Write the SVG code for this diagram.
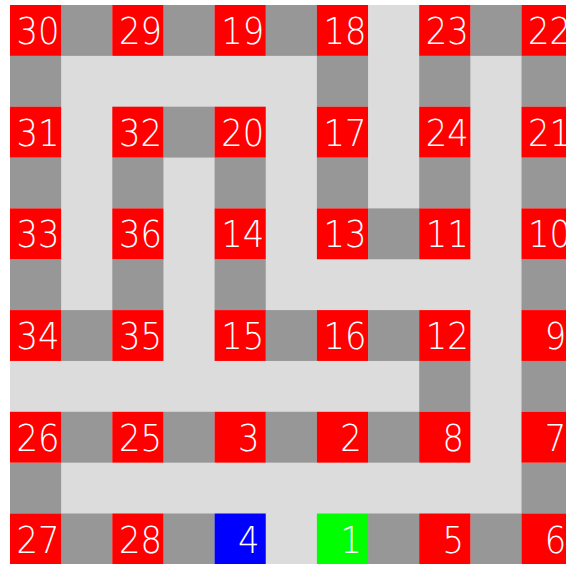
<svg xmlns="http://www.w3.org/2000/svg" xmlns:xlink="http://www.w3.org/1999/xlink" width="566" height="564" viewBox="0 0 566 564">
<style>
.bg{fill:#dcdcdc}
.w{fill:#979797}
.n{fill:#ff0000}
.s{fill:#00ff00}
.e{fill:#0000ff}
.t{fill:#ffffff;font-family:"DejaVu Sans","Liberation Sans",sans-serif;font-weight:200;font-size:37px;text-anchor:middle}
</style>
<defs>
<rect id="c" width="51.15" height="50.85"/>
</defs>
<rect x="0" y="0" width="566" height="564" fill="#ffffff"/>
<rect class="bg" x="10" y="5" width="556" height="559"/>
<g id="connectors">
<use href="#c" class="w" x="61.15" y="5"/>
<use href="#c" class="w" x="163.45" y="5"/>
<use href="#c" class="w" x="265.75" y="5"/>
<use href="#c" class="w" x="470.35" y="5"/>
<use href="#c" class="w" x="10" y="55.85"/>
<use href="#c" class="w" x="316.9" y="55.85"/>
<use href="#c" class="w" x="419.2" y="55.85"/>
<use href="#c" class="w" x="521.5" y="55.85"/>
<use href="#c" class="w" x="163.45" y="106.7"/>
<use href="#c" class="w" x="10" y="157.55"/>
<use href="#c" class="w" x="112.3" y="157.55"/>
<use href="#c" class="w" x="214.6" y="157.55"/>
<use href="#c" class="w" x="316.9" y="157.55"/>
<use href="#c" class="w" x="419.2" y="157.55"/>
<use href="#c" class="w" x="521.5" y="157.55"/>
<use href="#c" class="w" x="368.05" y="208.4"/>
<use href="#c" class="w" x="10" y="259.25"/>
<use href="#c" class="w" x="112.3" y="259.25"/>
<use href="#c" class="w" x="214.6" y="259.25"/>
<use href="#c" class="w" x="521.5" y="259.25"/>
<use href="#c" class="w" x="61.15" y="310.1"/>
<use href="#c" class="w" x="265.75" y="310.1"/>
<use href="#c" class="w" x="368.05" y="310.1"/>
<use href="#c" class="w" x="419.2" y="360.95"/>
<use href="#c" class="w" x="521.5" y="360.95"/>
<use href="#c" class="w" x="61.15" y="411.8"/>
<use href="#c" class="w" x="163.45" y="411.8"/>
<use href="#c" class="w" x="265.75" y="411.8"/>
<use href="#c" class="w" x="368.05" y="411.8"/>
<use href="#c" class="w" x="10" y="462.65"/>
<use href="#c" class="w" x="521.5" y="462.65"/>
<use href="#c" class="w" x="61.15" y="513.5"/>
<use href="#c" class="w" x="163.45" y="513.5"/>
<use href="#c" class="w" x="368.05" y="513.5"/>
<use href="#c" class="w" x="470.35" y="513.5"/>
</g>
<g id="n30"><use href="#c" class="n" x="10" y="5"/><text class="t" x="38.1" y="44" textLength="43" lengthAdjust="spacingAndGlyphs">30</text></g>
<g id="n29"><use href="#c" class="n" x="112.3" y="5"/><text class="t" x="140.4" y="44" textLength="43" lengthAdjust="spacingAndGlyphs">29</text></g>
<g id="n19"><use href="#c" class="n" x="214.6" y="5"/><text class="t" x="242.7" y="44" textLength="43" lengthAdjust="spacingAndGlyphs">19</text></g>
<g id="n18"><use href="#c" class="n" x="316.9" y="5"/><text class="t" x="345" y="44" textLength="43" lengthAdjust="spacingAndGlyphs">18</text></g>
<g id="n23"><use href="#c" class="n" x="419.2" y="5"/><text class="t" x="447.3" y="44" textLength="43" lengthAdjust="spacingAndGlyphs">23</text></g>
<g id="n22"><use href="#c" class="n" x="521.5" y="5"/><text class="t" x="549.6" y="44" textLength="43" lengthAdjust="spacingAndGlyphs">22</text></g>
<g id="n31"><use href="#c" class="n" x="10" y="106.7"/><text class="t" x="38.1" y="145.7" textLength="43" lengthAdjust="spacingAndGlyphs">31</text></g>
<g id="n32"><use href="#c" class="n" x="112.3" y="106.7"/><text class="t" x="140.4" y="145.7" textLength="43" lengthAdjust="spacingAndGlyphs">32</text></g>
<g id="n20"><use href="#c" class="n" x="214.6" y="106.7"/><text class="t" x="242.7" y="145.7" textLength="43" lengthAdjust="spacingAndGlyphs">20</text></g>
<g id="n17"><use href="#c" class="n" x="316.9" y="106.7"/><text class="t" x="345" y="145.7" textLength="43" lengthAdjust="spacingAndGlyphs">17</text></g>
<g id="n24"><use href="#c" class="n" x="419.2" y="106.7"/><text class="t" x="447.3" y="145.7" textLength="43" lengthAdjust="spacingAndGlyphs">24</text></g>
<g id="n21"><use href="#c" class="n" x="521.5" y="106.7"/><text class="t" x="549.6" y="145.7" textLength="43" lengthAdjust="spacingAndGlyphs">21</text></g>
<g id="n33"><use href="#c" class="n" x="10" y="208.4"/><text class="t" x="38.1" y="247.4" textLength="43" lengthAdjust="spacingAndGlyphs">33</text></g>
<g id="n36"><use href="#c" class="n" x="112.3" y="208.4"/><text class="t" x="140.4" y="247.4" textLength="43" lengthAdjust="spacingAndGlyphs">36</text></g>
<g id="n14"><use href="#c" class="n" x="214.6" y="208.4"/><text class="t" x="242.7" y="247.4" textLength="43" lengthAdjust="spacingAndGlyphs">14</text></g>
<g id="n13"><use href="#c" class="n" x="316.9" y="208.4"/><text class="t" x="345" y="247.4" textLength="43" lengthAdjust="spacingAndGlyphs">13</text></g>
<g id="n11"><use href="#c" class="n" x="419.2" y="208.4"/><text class="t" x="447.3" y="247.4" textLength="43" lengthAdjust="spacingAndGlyphs">11</text></g>
<g id="n10"><use href="#c" class="n" x="521.5" y="208.4"/><text class="t" x="549.6" y="247.4" textLength="43" lengthAdjust="spacingAndGlyphs">10</text></g>
<g id="n34"><use href="#c" class="n" x="10" y="310.1"/><text class="t" x="38.1" y="349.1" textLength="43" lengthAdjust="spacingAndGlyphs">34</text></g>
<g id="n35"><use href="#c" class="n" x="112.3" y="310.1"/><text class="t" x="140.4" y="349.1" textLength="43" lengthAdjust="spacingAndGlyphs">35</text></g>
<g id="n15"><use href="#c" class="n" x="214.6" y="310.1"/><text class="t" x="242.7" y="349.1" textLength="43" lengthAdjust="spacingAndGlyphs">15</text></g>
<g id="n16"><use href="#c" class="n" x="316.9" y="310.1"/><text class="t" x="345" y="349.1" textLength="43" lengthAdjust="spacingAndGlyphs">16</text></g>
<g id="n12"><use href="#c" class="n" x="419.2" y="310.1"/><text class="t" x="447.3" y="349.1" textLength="43" lengthAdjust="spacingAndGlyphs">12</text></g>
<g id="n9"><use href="#c" class="n" x="521.5" y="310.1"/><text class="t" x="555.6" y="349.1" textLength="21.5" lengthAdjust="spacingAndGlyphs">9</text></g>
<g id="n26"><use href="#c" class="n" x="10" y="411.8"/><text class="t" x="38.1" y="450.8" textLength="43" lengthAdjust="spacingAndGlyphs">26</text></g>
<g id="n25"><use href="#c" class="n" x="112.3" y="411.8"/><text class="t" x="140.4" y="450.8" textLength="43" lengthAdjust="spacingAndGlyphs">25</text></g>
<g id="n3"><use href="#c" class="n" x="214.6" y="411.8"/><text class="t" x="248.7" y="450.8" textLength="21.5" lengthAdjust="spacingAndGlyphs">3</text></g>
<g id="n2"><use href="#c" class="n" x="316.9" y="411.8"/><text class="t" x="351" y="450.8" textLength="21.5" lengthAdjust="spacingAndGlyphs">2</text></g>
<g id="n8"><use href="#c" class="n" x="419.2" y="411.8"/><text class="t" x="453.3" y="450.8" textLength="21.5" lengthAdjust="spacingAndGlyphs">8</text></g>
<g id="n7"><use href="#c" class="n" x="521.5" y="411.8"/><text class="t" x="555.6" y="450.8" textLength="21.5" lengthAdjust="spacingAndGlyphs">7</text></g>
<g id="n27"><use href="#c" class="n" x="10" y="513.5"/><text class="t" x="38.1" y="552.5" textLength="43" lengthAdjust="spacingAndGlyphs">27</text></g>
<g id="n28"><use href="#c" class="n" x="112.3" y="513.5"/><text class="t" x="140.4" y="552.5" textLength="43" lengthAdjust="spacingAndGlyphs">28</text></g>
<g id="n4"><use href="#c" class="e" x="214.6" y="513.5"/><text class="t" x="248.7" y="552.5" textLength="21.5" lengthAdjust="spacingAndGlyphs">4</text></g>
<g id="n1"><use href="#c" class="s" x="316.9" y="513.5"/><text class="t" x="351" y="552.5" textLength="21.5" lengthAdjust="spacingAndGlyphs">1</text></g>
<g id="n5"><use href="#c" class="n" x="419.2" y="513.5"/><text class="t" x="453.3" y="552.5" textLength="21.5" lengthAdjust="spacingAndGlyphs">5</text></g>
<g id="n6"><use href="#c" class="n" x="521.5" y="513.5"/><text class="t" x="555.6" y="552.5" textLength="21.5" lengthAdjust="spacingAndGlyphs">6</text></g>
</svg>
